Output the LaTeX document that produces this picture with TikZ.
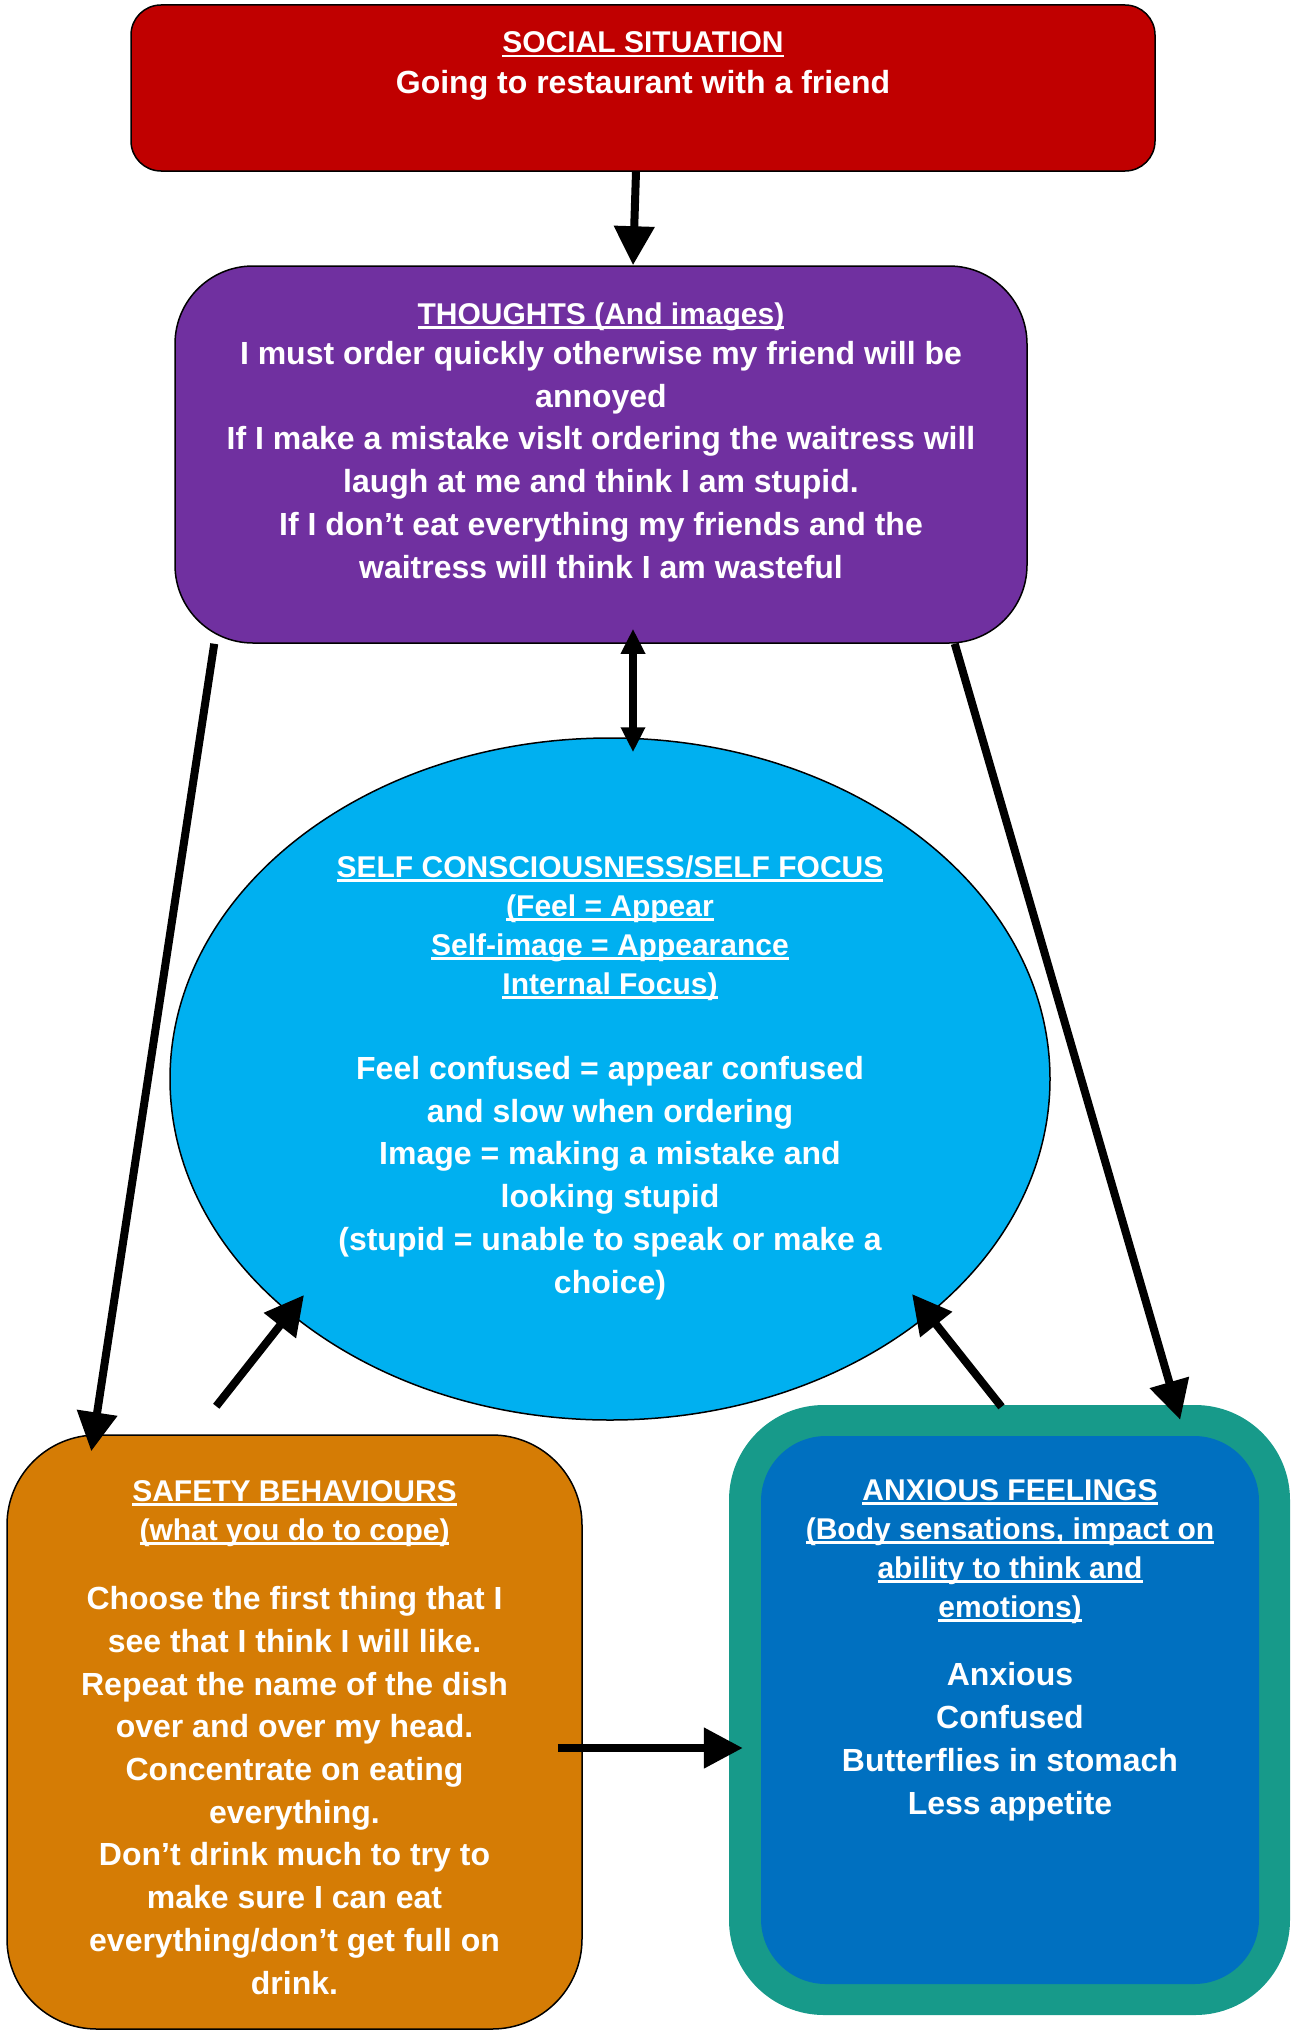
\documentclass[tikz,border=0pt]{standalone}
\usepackage{fontspec}
\setmainfont{Liberation Sans}
\usetikzlibrary{shapes.geometric,arrows.meta,positioning,calc}
\definecolor{situationred}{HTML}{C00000}
\definecolor{thoughtspurple}{HTML}{7030A0}
\definecolor{focusblue}{HTML}{00B0F0}
\definecolor{safetyorange}{HTML}{D57C05}
\definecolor{feelingsteal}{HTML}{179A8A}
\definecolor{feelingsblue}{HTML}{0070C0}
\newsavebox\hdbox
\newcommand{\hdline}[1]{\sbox\hdbox{#1}\rlap{\rule[-4.5pt]{\wd\hdbox}{2.3pt}}\usebox\hdbox}

\begin{document}
\begin{tikzpicture}[x=1pt, y=-1pt,
    box/.style={draw=black, line width=1.5pt, rounded corners=#1},
    head/.style={text=white, font=\fontsize{30}{39}\selectfont\bfseries, align=center, anchor=base, inner sep=0pt},
    body/.style={text=white, font=\fontsize{32}{42.7}\selectfont\bfseries, align=center, anchor=base, inner sep=0pt},
    arrow/.style={line width=8pt, -{Triangle[length=39pt,width=39pt]}}]
    \useasboundingbox (0,0) rectangle (1290,2031);

    % boxes
    \node[box=30pt, fill=situationred, minimum width=1024pt, minimum height=166pt] (situation) at (643,88) {};
    \node[box=78pt, fill=thoughtspurple, minimum width=852pt, minimum height=377pt] (thoughts) at (601,454.5) {};
    \node[draw=black, line width=1.5pt, ellipse, fill=focusblue, minimum width=880pt, minimum height=682pt, inner sep=0pt] (focus) at (610,1079) {};
    \node[box=90pt, fill=safetyorange, minimum width=575pt, minimum height=594pt] (safety) at (294.5,1732) {};
    \node[rounded corners=95pt, fill=feelingsteal, minimum width=561pt, minimum height=610pt] (frame) at (1009.5,1710) {};
    \node[rounded corners=65pt, fill=feelingsblue, minimum width=498pt, minimum height=548pt] (feelings) at (1010,1710) {};

    % texts (anchored at the baseline of their last line)
    \node[head] (situationhead) at (643,53) {\hdline{SOCIAL SITUATION}};
    \node[body] (situationtext) at (643,94) {Going to restaurant with a friend};
    \node[head] (thoughtshead) at (601,324) {\hdline{THOUGHTS (And images)}};
    \node[body] (thoughtstext) at (601,578) {I must order quickly otherwise my friend will be\\ annoyed\\ If I make a mistake vislt ordering the waitress will\\ laugh at me and think I am stupid.\\ If I don’t eat everything my friends and the\\ waitress will think I am wasteful};
    \node[head] (focushead) at (610,994) {\hdline{SELF CONSCIOUSNESS/SELF FOCUS}\\ \hdline{(Feel = Appear}\\ \hdline{Self-image = Appearance}\\ \hdline{Internal Focus)}};
    \node[body] (focustext) at (610,1293) {Feel confused = appear confused\\ and slow when ordering\\ Image = making a mistake and\\ looking stupid\\ (stupid = unable to speak or make a\\ choice)};
    \node[head] (safetyhead) at (294.5,1540) {\hdline{SAFETY BEHAVIOURS}\\ \hdline{(what you do to cope)}};
    \node[body] (safetytext) at (294.5,1994) {Choose the first thing that I\\ see that I think I will like.\\ Repeat the name of the dish\\ over and over my head.\\ Concentrate on eating\\ everything.\\ Don’t drink much to try to\\ make sure I can eat\\ everything/don’t get full on\\ drink.};
    \node[head] (feelingshead) at (1010,1617) {\hdline{ANXIOUS FEELINGS}\\ \hdline{(Body sensations, impact on}\\ \hdline{ability to think and}\\ \hdline{emotions)}};
    \node[body] (feelingstext) at (1010,1814) {Anxious\\ Confused\\ Butterflies in stomach\\ Less appetite};

    % arrows
    \draw[arrow] ([xshift=-7pt]situation.south) -- ([xshift=32pt]thoughts.north);
    \draw[line width=8pt, {Triangle[length=25pt,width=23pt]}-{Triangle[length=25pt,width=23pt]}] ([xshift=32pt,yshift=15pt]thoughts.south) -- ([xshift=23pt,yshift=-15pt]focus.north);
    \draw[arrow] ([xshift=40pt]thoughts.south west) -- ([xshift=85pt,yshift=-17pt]safety.north west);
    \draw[arrow] ([xshift=-73pt]thoughts.south east) -- ([xshift=-110pt,yshift=-15pt]frame.north east);
    \draw[arrow] ([xshift=210pt,yshift=28pt]safety.north west) -- ([xshift=-306pt,yshift=-216pt]focus.center);
    \draw[arrow] ([xshift=-8pt,yshift=-2pt]frame.north) -- ([xshift=302pt,yshift=-215pt]focus.center);
    \draw[arrow] ([xshift=-25pt,yshift=-16pt]safety.east) -- ([xshift=14pt,yshift=-38pt]frame.west);
\end{tikzpicture}
\end{document}
